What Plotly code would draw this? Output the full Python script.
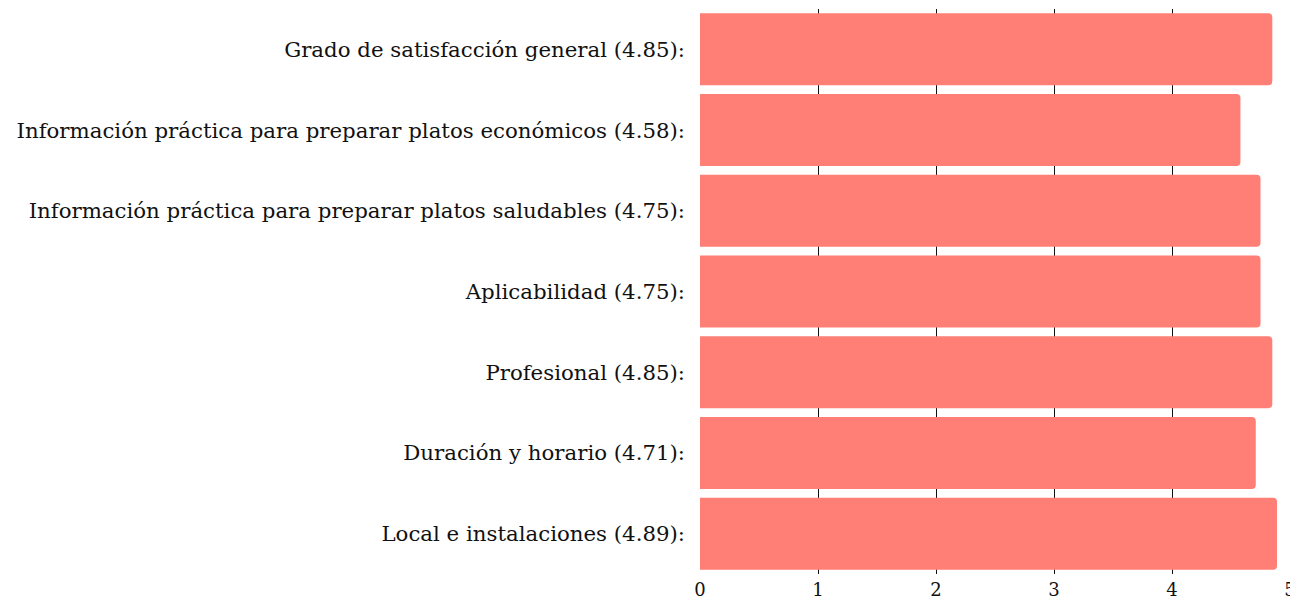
import plotly.graph_objects as go

categories = [
    "Grado de satisfacción general",
    "Información práctica para preparar platos económicos",
    "Información práctica para preparar platos saludables",
    "Aplicabilidad",
    "Profesional",
    "Duración y horario",
    "Local e instalaciones",
]
values = [4.85, 4.58, 4.75, 4.75, 4.85, 4.71, 4.89]
x_ticks = [0, 1, 2, 3, 4, 5]

labels = [f"{c} ({v:.2f}):" for c, v in zip(categories, values)]

fig = go.Figure(go.Bar(
    x=values,
    y=labels,
    orientation="h",
    marker=dict(color="#FF7E76", line=dict(width=0)),
    hoverinfo="x+y",
))

font_family = "Georgia, 'DejaVu Serif', serif"
fig.update_layout(
    width=1298, height=602,
    margin=dict(l=692, r=16, t=1, b=36, autoexpand=False),
    paper_bgcolor="white", plot_bgcolor="white",
    bargap=0.108,
    barcornerradius=4,
    showlegend=False,
    font=dict(family=font_family, size=20, color="#111111"),
)
fig.update_xaxes(
    range=[0, 5],
    tickvals=x_ticks,
    showgrid=True, gridcolor="#111111", gridwidth=1,
    zeroline=False, showline=False,
    tickfont=dict(family=font_family, size=18, color="#111111"),
    ticks="", ticklabelstandoff=3,
)
fig.update_yaxes(
    autorange="reversed",
    showgrid=False, zeroline=False, showline=False,
    ticks="", ticklabelstandoff=14,
    tickfont=dict(family=font_family, size=21.3, color="#111111"),
)

fig.write_html("out.html")
